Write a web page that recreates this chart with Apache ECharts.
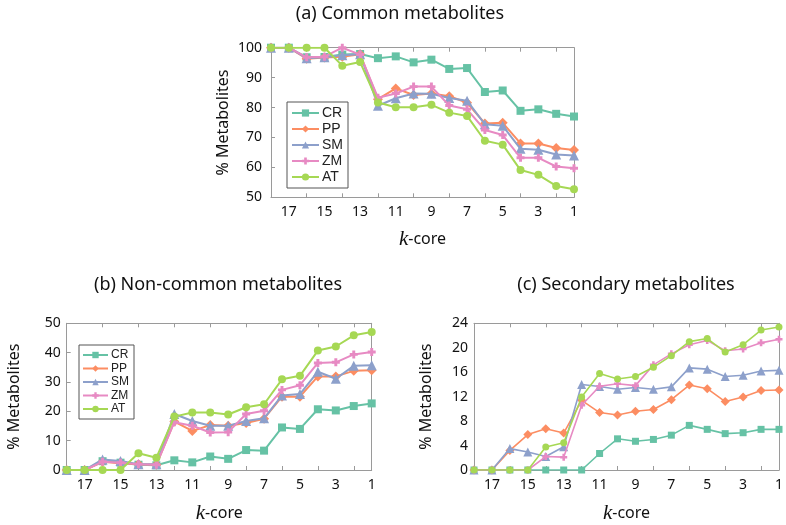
<!DOCTYPE html>
<html>
<head>
<meta charset="utf-8">
<script src="https://cdn.jsdelivr.net/npm/echarts@6/dist/echarts.min.js"></script>
<style>html,body{margin:0;padding:0;background:#fff}#c{width:786px;height:525px}</style>
</head>
<body>
<div id="c"></div>
<script>
// ---- data ----
const kcore = ['18','17','16','15','14','13','12','11','10','9','8','7','6','5','4','3','2','1'];
const seriesNames = ['CR','PP','SM','ZM','AT'];

// (a) Common metabolites
const aCR = [100,100,96.8,96.9,97.7,97.9,96.5,97.1,95.1,96.0,92.9,93.2,85.2,85.7,78.9,79.4,77.9,77.0];
const aPP = [100,100,96.3,96.7,97.0,97.8,82.8,86.4,84.2,84.7,83.8,81.6,74.7,74.9,68.0,68.0,66.5,65.8];
const aSM = [100,100,96.5,96.8,97.5,97.8,80.6,83.1,84.7,84.6,83.2,82.3,74.4,73.9,66.2,65.9,64.3,64.0];
const aZM = [100,100,96.8,97.0,100,97.7,83.3,84.7,87.0,87.0,80.7,79.4,72.5,70.8,63.2,63.2,60.3,59.7];
const aAT = [100,100,100,100,94.0,95.2,81.7,80.1,80.1,80.9,78.3,77.2,68.9,67.6,59.1,57.5,53.8,52.7];

// (b) Non-common metabolites
const bCR = [0,0,3.0,2.5,1.8,1.6,3.3,2.6,4.6,3.8,6.8,6.6,14.5,14.0,20.7,20.3,21.8,22.7];
const bPP = [0,0,2.8,2.3,2.0,1.8,16.5,13.3,15.3,15.1,16.0,17.5,25.0,25.0,31.9,31.9,33.8,34.0];
const bSM = [0,0,3.6,3.1,2.0,2.0,19.1,16.7,15.1,15.1,16.7,17.6,25.4,25.9,33.5,31.1,35.5,35.7];
const bZM = [0,0,2.8,2.5,2.0,1.8,16.3,15.1,12.8,12.9,19.1,20.2,27.3,28.9,36.5,36.7,39.4,40.2];
const bAT = [0,0,0,0,5.7,4.2,18.2,19.6,19.6,18.9,21.4,22.4,30.9,32.1,40.7,42.1,45.9,47.0];

// (c) Secondary metabolites
const cCR = [0,0,0,0,0,0,0,2.7,5.1,4.7,5.0,5.7,7.3,6.65,5.95,6.1,6.65,6.65];
const cPP = [0,0,3.2,5.8,6.75,6.05,11.4,9.4,9.0,9.6,9.9,11.5,13.9,13.3,11.2,11.95,13.0,13.1];
const cSM = [0,0,3.5,2.95,2.2,3.8,14.0,13.65,13.2,13.5,13.2,13.6,16.7,16.5,15.3,15.5,16.2,16.3];
const cZM = [0,0,0,0,2.2,2.1,10.6,13.7,14.1,13.8,17.2,19.0,20.5,21.2,19.5,19.8,20.8,21.4];
const cAT = [0,0,0,0,3.75,4.45,11.95,15.8,14.9,15.3,16.8,18.7,21.0,21.5,19.3,20.5,22.9,23.4];

const titles = ['(a) Common metabolites', '(b) Non-common metabolites', '(c) Secondary metabolites'];
const yName = '% Metabolites';

// ---- styling ----
const colors = ['#66c2a5','#fc8d62','#8da0cb','#e78ac3','#a6d854'];
const crossPath = 'path://M-1.1,-3H1.1V-1.1H3V1.1H1.1V3H-1.1V1.1H-3V-1.1H-1.1Z';
const symbols = ['rect','diamond','triangle',crossPath,'circle'];
const frame = '#9a9a9a';
const txtFont = 'Noto Sans';

const chart = echarts.init(document.getElementById('c'));

const grids = [
  {left:271, top:47.7, width:303, height:149.6},
  {left:66.7, top:323.3, width:305, height:149.4},
  {left:474, top:323.3, width:305.5, height:149.4}
];

const xAxis = [], yAxis = [], series = [];
const tickInt = (i) => i % 2 === 0;
const labInt = (i) => i % 2 === 1;

function addX(gi, nameGap) {
  const common = {
    type:'category', gridIndex:gi, data:kcore, boundaryGap:false,
    axisLine:{onZero:false, lineStyle:{color:frame, width:1}},
    axisTick:{inside:true, length:4, interval:tickInt, lineStyle:{color:frame}},
    splitLine:{show:false}
  };
  xAxis.push(Object.assign({}, common, {
    position:'bottom',
    axisLabel:{interval:labInt, color:'#111', fontFamily:txtFont, fontSize:14, margin:8},
    name:'{k|k}{c|-core}', nameLocation:'middle', nameGap:nameGap,
    nameTextStyle:{rich:{
      k:{fontFamily:'Liberation Serif', fontStyle:'italic', fontSize:21, color:'#111'},
      c:{fontFamily:txtFont, fontSize:16, color:'#111'}
    }}
  }));
  xAxis.push(Object.assign({}, common, {position:'top', axisLabel:{show:false}}));
  return xAxis.length - 2;
}

function addY(gi, min, max, interval, labelMargin, nameGap, tickMax, tickInterval) {
  const base = {type:'value', gridIndex:gi, splitLine:{show:false},
    axisLine:{show:true, onZero:false, lineStyle:{color:frame}}};
  const idx = yAxis.length;
  yAxis.push(Object.assign({}, base, {
    position:'left', min:min, max:max, interval:interval,
    axisTick:{show: tickMax == null, inside:true, length:4, lineStyle:{color:frame}},
    axisLabel:{color:'#111', fontFamily:txtFont, fontSize:14, margin:labelMargin},
    name:yName, nameLocation:'middle', nameGap:nameGap,
    nameTextStyle:{fontFamily:txtFont, fontSize:16, color:'#111'}
  }));
  const tMin = min, tMax = tickMax == null ? max : tickMax, tInt = tickInterval == null ? interval : tickInterval;
  yAxis.push(Object.assign({}, base, {
    position:'right', min:tMin, max:tMax, interval:tInt,
    axisTick:{inside:true, length:4, lineStyle:{color:frame}}, axisLabel:{show:false}
  }));
  if (tickMax != null) {
    yAxis.push(Object.assign({}, base, {
      position:'left', min:tMin, max:tMax, interval:tInt,
      axisLine:{show:false, onZero:false},
      axisTick:{inside:true, length:4, lineStyle:{color:frame}}, axisLabel:{show:false}
    }));
  }
  return idx;
}

function addSeries(xi, yi, arrs, symSize, lw) {
  arrs.forEach((d, k) => {
    series.push({
      type:'line', name:seriesNames[k], xAxisIndex:xi, yAxisIndex:yi, data:d,
      symbol:symbols[k], symbolSize: (k === 1 || k === 2) ? symSize + 2 : symSize,
      showSymbol:true, z: 2 + k,
      lineStyle:{color:colors[k], width:lw}, itemStyle:{color:colors[k]},
      emphasis:{disabled:true}, animation:false
    });
  });
}

// panel a
let xi = addX(0, 32);
let yi = addY(0, 50, 100, 10, 9, 40);
addSeries(xi, yi, [aCR,aPP,aSM,aZM,aAT], 8, 2);
// panel b
xi = addX(1, 33);
yi = addY(1, 0, 50, 10, 6, 44);
addSeries(xi, yi, [bCR,bPP,bSM,bZM,bAT], 8, 2);
// panel c
xi = addX(2, 33);
yi = addY(2, 0, 24, 4, 6, 40, 25, 5);
addSeries(xi, yi, [cCR,cPP,cSM,cZM,cAT], 7, 1.6);

const legendBase = {
  orient:'vertical', data:seriesNames, borderColor:'#555', borderWidth:1,
  backgroundColor:'#fff', selectedMode:false, itemWidth:27, itemHeight:9
};

chart.setOption({
  animation:false,
  color:colors,
  grid:grids,
  xAxis:xAxis, yAxis:yAxis, series:series,
  legend:[
    Object.assign({}, legendBase, {left:287, top:102, padding:[4,5,4,4], itemGap:2,
      textStyle:{fontFamily:'Liberation Sans', fontSize:14, color:'#222', padding:[0,0,0,-2]}}),
    Object.assign({}, legendBase, {left:79, top:345, padding:[4,5,4,3], itemGap:1.5, itemWidth:25, itemHeight:8,
      textStyle:{fontFamily:'Liberation Sans', fontSize:12, color:'#222', padding:[0,0,0,-2]}})
  ],
  graphic:[
    {type:'text', x:400, y:13.5, style:{text:titles[0], textAlign:'center', textVerticalAlign:'middle', font:'18px "Noto Sans"', fill:'#111'}},
    {type:'text', x:218, y:285, style:{text:titles[1], textAlign:'center', textVerticalAlign:'middle', font:'18px "Noto Sans"', fill:'#111'}},
    {type:'text', x:626, y:285, style:{text:titles[2], textAlign:'center', textVerticalAlign:'middle', font:'18px "Noto Sans"', fill:'#111'}}
  ]
});
</script>
</body>
</html>
